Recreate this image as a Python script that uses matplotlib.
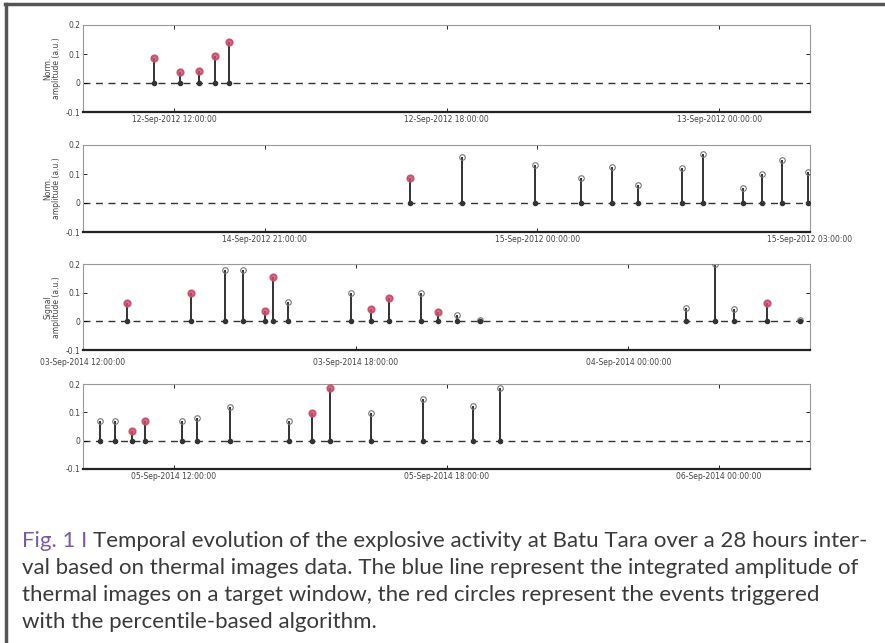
import matplotlib
matplotlib.use("Agg")
import matplotlib.pyplot as plt
import numpy as np

# %% Data (hours from panel start, amplitude in a.u.)
p1_t = [1.56, 2.13, 2.55, 2.90, 3.21]
p1_a = [0.086, 0.038, 0.040, 0.093, 0.140]
p1_trig = [1, 1, 1, 1, 1]
p1_ticks = [2, 8, 14]
p1_labels = ["12-Sep-2012 12:00:00", "12-Sep-2012 18:00:00", "13-Sep-2012 00:00:00"]

p2_t = [3.60, 4.17, 4.97, 5.48, 5.82, 6.11, 6.59, 6.82, 7.26, 7.47, 7.69, 7.98]
p2_a = [0.086, 0.160, 0.130, 0.086, 0.124, 0.062, 0.120, 0.170, 0.052, 0.100, 0.148, 0.107]
p2_trig = [1, 0, 0, 0, 0, 0, 0, 0, 0, 0, 0, 0]
p2_ticks = [2, 5, 8]
p2_labels = ["14-Sep-2012 21:00:00", "15-Sep-2012 00:00:00", "15-Sep-2012 03:00:00"]

p3_t = [0.97, 2.38, 3.13, 3.52, 4.01, 4.18, 4.51, 5.90, 6.34, 6.73, 7.44, 7.81, 8.23, 8.74,
        13.27, 13.91, 14.33, 15.05, 15.78]
p3_a = [0.063, 0.100, 0.178, 0.178, 0.037, 0.156, 0.067, 0.100, 0.044, 0.081, 0.100, 0.033,
        0.022, 0.005, 0.048, 0.200, 0.044, 0.063, 0.005]
p3_trig = [1, 1, 0, 0, 1, 1, 0, 0, 1, 1, 0, 1, 0, 0, 0, 0, 0, 1, 0]
p3_ticks = [0, 6, 12]
p3_labels = ["03-Sep-2014 12:00:00", "03-Sep-2014 18:00:00", "04-Sep-2014 00:00:00"]

p4_t = [0.37, 0.70, 1.08, 1.36, 2.18, 2.51, 3.24, 4.53, 5.04, 5.44, 6.34, 7.48, 8.58, 9.18]
p4_a = [0.069, 0.069, 0.035, 0.069, 0.069, 0.080, 0.120, 0.069, 0.097, 0.186, 0.097, 0.148,
        0.124, 0.186]
p4_trig = [0, 0, 1, 1, 0, 0, 0, 0, 1, 1, 0, 0, 0, 0]
p4_ticks = [2, 8, 14]
p4_labels = ["05-Sep-2014 12:00:00", "05-Sep-2014 18:00:00", "06-Sep-2014 00:00:00"]

panels = [
    (p1_t, p1_a, p1_trig, p1_ticks, p1_labels, 16, "Norm.\namplitude (a.u.)"),
    (p2_t, p2_a, p2_trig, p2_ticks, p2_labels, 8, "Norm.\namplitude (a.u.)"),
    (p3_t, p3_a, p3_trig, p3_ticks, p3_labels, 16, "Signal\namplitude (a.u.)"),
    (p4_t, p4_a, p4_trig, p4_ticks, p4_labels, 16, None),
]

caption_head = "Fig. 1 I "
caption_lines = [
    "Temporal evolution of the explosive activity at Batu Tara over a 28 hours inter-",
    "val based on thermal images data. The blue line represent the integrated amplitude of",
    "thermal images on a target window, the red circles represent the events triggered",
    "with the percentile-based algorithm.",
]

# %% Figure
fig = plt.figure(figsize=(8.85, 6.43), dpi=100)
W, H = 885, 643

# frame lines at top and left
fig.add_artist(plt.Line2D([5 / W, 1], [1 - 4 / H, 1 - 4 / H], color="#555555", lw=2.5))
fig.add_artist(plt.Line2D([6 / W, 6 / W], [0, 1 - 4 / H], color="#555555", lw=2.5))

# axes boxes in pixels (left, top, right, bottom)
boxes = [(83, 25, 810, 112), (83, 145, 810, 232), (83, 264, 810, 350), (83, 384, 810, 469)]

for k, ((t, a, trig, ticks, labels, span, ylab), (l, tp, r, b)) in enumerate(zip(panels, boxes)):
    ax = fig.add_axes([l / W, 1 - b / H, (r - l) / W, (b - tp) / H])
    t = np.array(t)
    a = np.array(a)
    trig = np.array(trig, dtype=bool)

    ax.axhline(0, color="#333333", lw=1.0, ls=(0, (5, 4)), zorder=1)
    ax.vlines(t, 0, a, color="#222222", lw=1.3, zorder=2)
    ax.plot(t, a, "o", ms=4, mfc="none", mec="#777777", mew=0.8, zorder=3)
    ax.plot(t, np.zeros_like(t), "o", ms=3, color="#333333", zorder=3)
    ax.plot(t[trig], a[trig], "o", ms=5, color="#d04a6a", alpha=0.8, zorder=4)

    ax.set_xlim(0, span)
    ax.set_ylim(-0.1, 0.2)
    ax.set_yticks([-0.1, 0, 0.1, 0.2])
    ax.set_yticklabels(["-0.1", "0", "0.1", "0.2"])
    ax.set_xticks(ticks)
    ax.set_xticklabels(labels)
    ax.tick_params(labelsize=5.5, labelcolor="#444444", length=3, width=0.6, direction="in",
                   top=True, right=True, pad=2)
    if k == 2:
        ax.tick_params(axis="x", pad=6)
    for s in ["top", "right", "left"]:
        ax.spines[s].set_color("#999999")
        ax.spines[s].set_linewidth(0.8)
    ax.spines["bottom"].set_color("#222222")
    ax.spines["bottom"].set_linewidth(1.6)
    if ylab:
        ax.set_ylabel(ylab, fontsize=5.5, color="#444444", labelpad=3, linespacing=1.0)

# %% Caption
cap_font = "Lato"
fs = 16
y0 = 1 - 547 / H
step = 27 / H
t1 = fig.text(22 / W, y0, caption_head, color="#7a5aa8", fontsize=fs, family=cap_font,
              va="baseline")
fig.text(0, 0, "", fontsize=1)
plt.annotate(caption_lines[0], xy=(1, 0), xycoords=t1, va="bottom", ha="left",
             color="#3a3a3a", fontsize=fs, family=cap_font, annotation_clip=False)
for i, line in enumerate(caption_lines[1:]):
    fig.text(22 / W, y0 - (i + 1) * step, line, color="#3a3a3a", fontsize=fs,
             family=cap_font, va="baseline")

fig.savefig("out.png", dpi=100)
